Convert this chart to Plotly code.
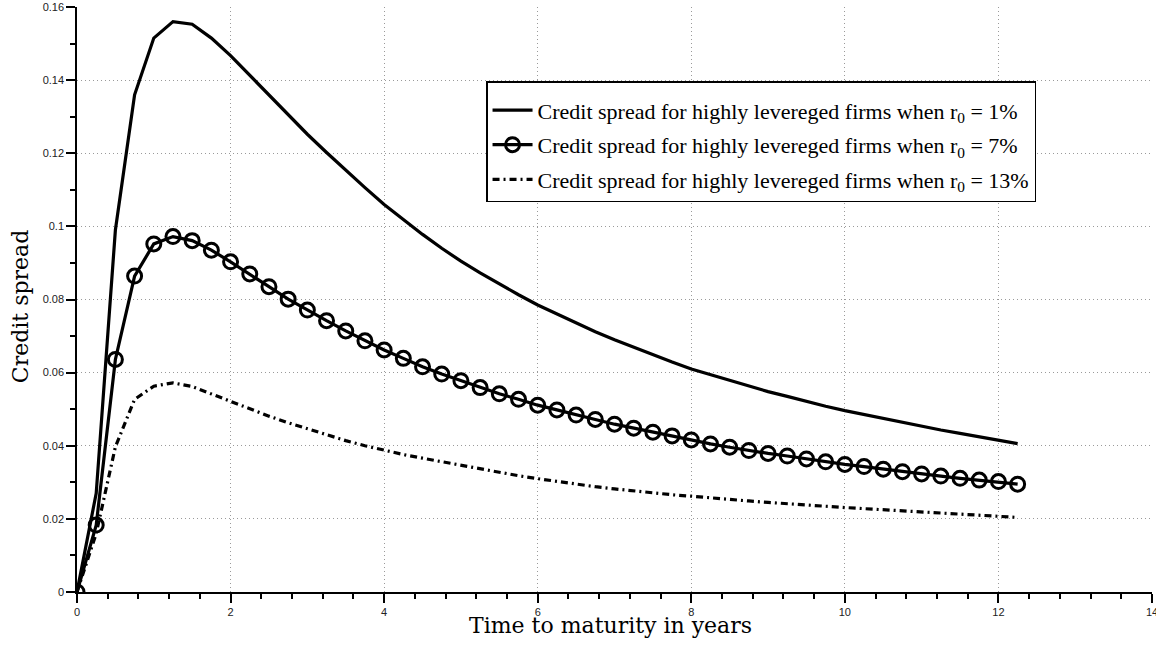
import plotly.graph_objects as go

maturity = [0.0, 0.25, 0.5, 0.75, 1.0, 1.25, 1.5, 1.75, 2.0, 2.25, 2.5, 2.75, 3.0, 3.25, 3.5, 3.75,
            4.0, 4.25, 4.5, 4.75, 5.0, 5.25, 5.5, 5.75, 6.0, 6.25, 6.5, 6.75, 7.0, 7.25, 7.5, 7.75,
            8.0, 8.25, 8.5, 8.75, 9.0, 9.25, 9.5, 9.75, 10.0, 10.25, 10.5, 10.75, 11.0, 11.25, 11.5,
            11.75, 12.0, 12.25]

spread_r1 = [0.0, 0.027, 0.099, 0.136, 0.1515, 0.156, 0.1553, 0.1515, 0.1467, 0.1413, 0.1358, 0.1305,
             0.1252, 0.1202, 0.1153, 0.1106, 0.1060, 0.1018, 0.0978, 0.0940, 0.0905, 0.0873, 0.0842,
             0.0813, 0.0785, 0.0760, 0.0736, 0.0712, 0.0690, 0.0669, 0.0648, 0.0629, 0.0610, 0.0594,
             0.0578, 0.0563, 0.0548, 0.0535, 0.0521, 0.0508, 0.0496, 0.0485, 0.0474, 0.0463, 0.0452,
             0.0443, 0.0434, 0.0425, 0.0416, 0.0406]

spread_r7 = [0.0, 0.0183, 0.0636, 0.0864, 0.0952, 0.0972, 0.0961, 0.0935, 0.0903, 0.0870, 0.0835,
             0.0801, 0.0771, 0.0742, 0.0714, 0.0687, 0.0662, 0.0639, 0.0616, 0.0596, 0.0578, 0.0559,
             0.0542, 0.0527, 0.0511, 0.0498, 0.0484, 0.0472, 0.0459, 0.0448, 0.0437, 0.0427, 0.0416,
             0.0405, 0.0396, 0.0387, 0.0379, 0.0372, 0.0364, 0.0356, 0.0349, 0.0343, 0.0336, 0.0329,
             0.0323, 0.0317, 0.0311, 0.0306, 0.0302, 0.0295]

spread_r13 = [0.0, 0.016, 0.0397, 0.0527, 0.0563, 0.0572, 0.0562, 0.0542, 0.0520, 0.0500, 0.0481,
              0.0463, 0.0446, 0.0430, 0.0414, 0.0400, 0.0387, 0.0376, 0.0366, 0.0356, 0.0346, 0.0336,
              0.0327, 0.0318, 0.0310, 0.0302, 0.0295, 0.0288, 0.0282, 0.0276, 0.0271, 0.0266, 0.0262,
              0.0257, 0.0253, 0.0249, 0.0245, 0.0241, 0.0238, 0.0234, 0.0231, 0.0228, 0.0225, 0.0222,
              0.0219, 0.0216, 0.0213, 0.0210, 0.0207, 0.0204]

names = ["Credit spread for highly levereged firms when r<sub>0</sub> = 1%",
         "Credit spread for highly levereged firms when r<sub>0</sub> = 7%",
         "Credit spread for highly levereged firms when r<sub>0</sub> = 13%"]

x_title = "Time to maturity in years"
y_title = "Credit spread"

fig = go.Figure()
fig.add_trace(go.Scatter(x=maturity, y=spread_r1, mode="lines", name=names[0], legendgroup="a",
                         line=dict(color="black", width=3.2)))
fig.add_trace(go.Scatter(x=maturity, y=spread_r7, mode="lines+markers", name=names[1],
                         legendgroup="b",
                         line=dict(color="black", width=3.2),
                         marker=dict(symbol="circle-open", size=14, color="black",
                                     line=dict(width=3, color="black"))))
fig.add_trace(go.Scatter(x=maturity, y=spread_r13, mode="lines", name=names[2], legendgroup="c",
                         line=dict(color="black", width=3.2, dash="7px,4px,2px,4px")))

axis_common = dict(showline=True, linecolor="black", linewidth=1.5, ticks="outside",
                   tickcolor="black", tickwidth=1.5, ticklen=9, showgrid=True,
                   gridcolor="#9a9a9a", griddash="1px,3px", gridwidth=1, zeroline=False,
                   automargin=False, ticklabeloverflow="allow",
                   tickfont=dict(family="Liberation Sans, Arial", size=11, color="#222"))

fig.update_xaxes(range=[0, 14], dtick=2, tick0=0,
                 minor=dict(dtick=0.4, ticklen=5, ticks="outside", tickcolor="black",
                            showgrid=False),
                 **axis_common)
fig.update_yaxes(range=[0, 0.16], dtick=0.02, tick0=0,
                 minor=dict(dtick=0.01, ticklen=5, ticks="outside", tickcolor="black",
                            showgrid=False),
                 **axis_common)

# plot area: 1075 x 585 px
fig.add_annotation(text=x_title, xref="paper", yref="paper", x=0.496, y=-0.057,
                   xanchor="center", yanchor="middle", showarrow=False,
                   font=dict(family="DejaVu Serif", size=22, color="black"))
fig.add_annotation(text=y_title, xref="paper", yref="paper", x=-0.053, y=0.487,
                   xanchor="center", yanchor="middle", showarrow=False, textangle=-90,
                   font=dict(family="DejaVu Serif", size=22, color="black"))

fig.update_layout(
    width=1156, height=650,
    margin=dict(l=77, r=4, t=7, b=58),
    plot_bgcolor="white", paper_bgcolor="white",
    showlegend=True,
    legend=dict(x=0.3805, y=0.873, xanchor="left", yanchor="top",
                bgcolor="white", bordercolor="black", borderwidth=1.5,
                font=dict(family="Liberation Serif, Times New Roman", size=22, color="black"),
                title=dict(text="&nbsp;", font=dict(size=5)),
                traceorder="grouped",
                itemwidth=40, tracegroupgap=3),
)

fig.write_html("out.html", config={"displayModeBar": False},
               post_script="document.body.style.margin='0px';")
